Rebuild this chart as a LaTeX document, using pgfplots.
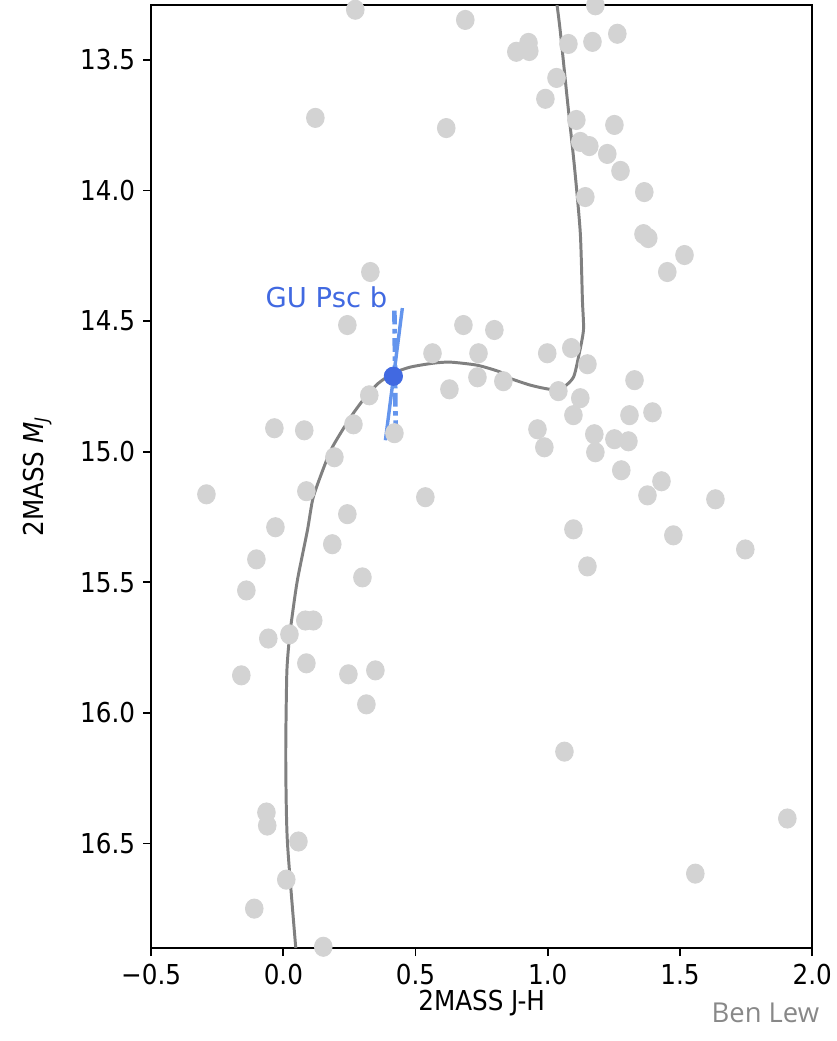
\documentclass[border=0pt]{standalone}
\usepackage{fontspec}
\setmainfont{DejaVu Sans Condensed}
\newfontfamily\dejavu{DejaVu Sans}
\newfontfamily\opensans{Open Sans}
\usepackage{pgfplots}
\pgfplotsset{compat=1.18}
\usepackage{pgfplotstable}

\definecolor{dotgray}{HTML}{D3D3D3}
\definecolor{isogray}{HTML}{808080}
\definecolor{royal}{HTML}{4169E1}
\definecolor{cfblue}{HTML}{6495ED}
\definecolor{credit}{HTML}{888888}

% field dwarfs: 2MASS J-H, M_J
\pgfplotstableread{
x y
0.272 13.308
0.688 13.347
0.881 13.469
0.927 13.435
0.930 13.466
1.078 13.439
1.169 13.431
1.263 13.400
1.180 13.291
1.033 13.569
0.991 13.649
0.121 13.722
0.616 13.761
1.108 13.730
1.252 13.749
1.123 13.814
1.157 13.830
1.225 13.860
1.275 13.925
1.142 14.025
1.365 14.006
1.362 14.167
1.380 14.182
1.517 14.247
1.452 14.312
0.329 14.312
0.242 14.515
0.681 14.515
0.798 14.534
0.564 14.623
0.738 14.623
0.998 14.623
1.089 14.603
1.150 14.665
0.628 14.761
0.734 14.715
0.832 14.730
1.040 14.768
1.328 14.726
1.123 14.795
1.097 14.860
1.309 14.860
1.396 14.849
0.325 14.784
0.265 14.895
-0.034 14.910
0.079 14.918
0.420 14.929
0.961 14.914
0.987 14.983
1.252 14.952
1.176 14.933
1.305 14.960
1.180 15.002
0.193 15.021
1.278 15.071
1.430 15.113
1.377 15.167
-0.291 15.163
0.087 15.151
0.537 15.174
0.242 15.239
1.634 15.182
-0.030 15.289
1.097 15.297
1.475 15.320
-0.102 15.412
0.185 15.354
1.150 15.439
0.299 15.481
-0.140 15.531
1.747 15.374
0.083 15.646
0.113 15.646
-0.057 15.715
0.023 15.699
0.087 15.810
0.246 15.852
0.348 15.837
-0.159 15.856
0.314 15.967
1.063 16.148
-0.064 16.381
-0.061 16.431
0.057 16.492
0.011 16.638
-0.110 16.749
1.906 16.404
1.558 16.615
0.151 16.895
}\fielddwarfs

% isochrone track
\pgfplotstableread{
x y
0.047 16.900
0.015 16.489
0.009 16.170
0.013 15.849
0.022 15.722
0.031 15.646
0.053 15.492
0.091 15.301
0.113 15.174
0.159 15.044
0.185 14.983
0.223 14.918
0.265 14.852
0.310 14.791
0.359 14.738
0.416 14.699
0.480 14.676
0.567 14.661
0.632 14.657
0.734 14.669
0.821 14.695
0.847 14.715
0.934 14.745
1.010 14.761
1.059 14.753
1.097 14.715
1.116 14.638
1.135 14.534
1.131 14.420
1.123 14.163
1.101 13.910
1.074 13.653
1.048 13.397
1.036 13.297
1.033 13.280
}\isochrone

\begin{document}
\begin{tikzpicture}
\useasboundingbox (-66.2pt,-40.7pt) rectangle (300pt,415.2pt);
\begin{axis}[
    at={(0pt,0pt)}, anchor=south west,
    scale only axis,
    width=289.5pt, height=413pt,
    xmin=-0.5, xmax=2.0,
    ymin=13.29, ymax=16.90,
    y dir=reverse,
    xtick={-0.5,0,0.5,1,1.5,2},
    xticklabels={−0.5,0.0,0.5,1.0,1.5,2.0},
    ytick={13.5,14,14.5,15,15.5,16,16.5},
    yticklabels={13.5,14.0,14.5,15.0,15.5,16.0,16.5},
    tick align=outside,
    tick pos=left,
    major tick length=3.5pt,
    tick style={black, line width=0.8pt},
    axis line style={line width=0.8pt},
    ticklabel style={font=\fontsize{12}{14}\selectfont},
    label style={font=\fontsize{12}{14}\selectfont},
    xlabel={2MASS J-H},
    ylabel={2MASS \textit{M}\textsubscript{\textit{J}}},
    xlabel style={at={(axis description cs:0.5,-0.058)}, anchor=center},
    ylabel style={at={(axis description cs:-0.172,0.5)}, anchor=center},
    clip=true,
]
\addplot[only marks, dotgray, mark=*, mark size=4.2pt,
    mark options={draw=dotgray, fill=dotgray, xscale=0.92}]
    table[x=x, y=y] {\fielddwarfs};

\addplot[isogray, line width=1.3pt, smooth, tension=0.4] table[x=x, y=y] {\isochrone};

% GU Psc b uncertainty lines
\addplot[cfblue, line width=1.5pt] coordinates {(0.386,14.956) (0.450,14.450)};
\addplot[cfblue, line width=2pt, dash pattern=on 6pt off 2pt on 2pt off 2pt]
    coordinates {(0.420,14.460) (0.425,14.948)};
\addplot[only marks, royal, mark=*, mark size=4pt, mark options={draw=royal, fill=royal}]
    coordinates {(0.416,14.711)};

\node[royal, font=\dejavu\fontsize{12}{14}\selectfont] at (axis cs:0.163,14.408) {GU Psc b};
\end{axis}
\node[credit, font=\opensans\fontsize{12}{14}\selectfont] at (269pt,-28.5pt) {Ben Lew};
\end{tikzpicture}
\end{document}
